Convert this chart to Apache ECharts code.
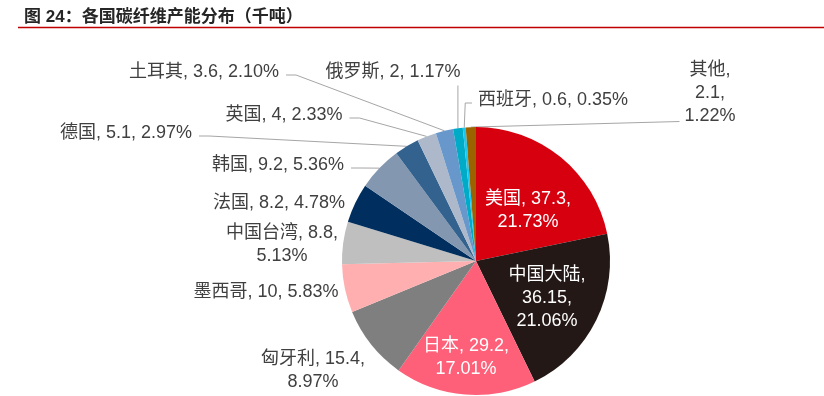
<!DOCTYPE html>
<html><head><meta charset="utf-8">
<script src="https://cdn.jsdelivr.net/npm/echarts@6/dist/echarts.min.js"></script>
<style>html,body{margin:0;padding:0;background:#fff}#c{width:824px;height:396px}</style>
</head><body><div id="c"></div>
<script>
// ---- data ----
const titleText = '图 24：各国碳纤维产能分布（千吨）';
const categories = ['美国','中国大陆','日本','匈牙利','墨西哥','中国台湾','法国','韩国','德国','英国','土耳其','俄罗斯','西班牙','其他'];
const capacity = [37.3, 36.15, 29.2, 15.4, 10, 8.8, 8.2, 9.2, 5.1, 4, 3.6, 2, 0.6, 2.1];

// ---- styles / layout ----
const colors = ['#D7000F','#231815','#FE6079','#7F7F7F','#FFAFAF','#BFBFBF','#002F5F','#8497B0','#33628F','#ADB9CA','#6797CB','#00ABC8','#1CC8F2','#9A6300'];
// label centre positions (px), wrap style, leader attach
const labelCfg = [
  {x:528, y:211, wrap:1, inside:true},
  {x:547, y:298, wrap:2, inside:true},
  {x:466, y:358, wrap:1, inside:true},
  {x:313, y:371, wrap:1},
  {x:266, y:292, wrap:0},
  {x:282, y:245, wrap:1},
  {x:279, y:203, wrap:0},
  {x:278, y:165, wrap:0, line:'right'},
  {x:126, y:133, wrap:0, line:'right'},
  {x:284, y:115, wrap:0, line:'right'},
  {x:204, y:72,  wrap:0, line:'right'},
  {x:393, y:72,  wrap:0, line:'up'},
  {x:553, y:100, wrap:0, line:'left'},
  {x:710, y:93,  wrap:2, line:'leftBottom'}
];
const FONT = "'Liberation Sans', Arial, 'Noto Sans CJK SC', sans-serif";
const total = capacity.reduce((a, b) => a + b, 0);

function fmt(p) {
  const c = labelCfg[p.dataIndex];
  const pct = (p.value / total * 100).toFixed(2) + '%';
  const v = String(p.value);
  if (c.wrap === 0) return p.name + ', ' + v + ', ' + pct;
  if (c.wrap === 1) return p.name + ', ' + v + ',\n' + pct;
  return p.name + ',\n' + v + ',\n' + pct;
}

const chart = echarts.init(document.getElementById('c'), null, {renderer: 'canvas'});
chart.setOption({
  animation: false,
  backgroundColor: '#fff',
  title: {
    text: titleText, left: 19, top: 4,
    textStyle: {fontSize: 17, fontWeight: 'bold', color: '#262626', fontFamily: FONT}
  },
  graphic: [{
    type: 'line', shape: {x1: 18, y1: 27.5, x2: 824, y2: 27.5},
    style: {stroke: '#C00000', lineWidth: 1.5}, silent: true
  }],
  series: [{
    type: 'pie',
    center: [476, 261],
    radius: 134,
    startAngle: 90,
    clockwise: true,
    avoidLabelOverlap: false,
    emphasis: {disabled: true},
    itemStyle: {borderWidth: 0},
    label: {
      show: true, position: 'outside', formatter: fmt,
      fontSize: 18, lineHeight: 23, color: '#404040', fontFamily: FONT
    },
    labelLine: {show: true, length: 10, length2: 10, lineStyle: {color: '#A6A6A6', width: 1}},
    labelLayout: function (p) {
      const c = labelCfg[p.dataIndex];
      const res = {x: c.x, y: c.y, align: 'center', verticalAlign: 'middle'};
      const a = p.labelLinePoints && p.labelLinePoints[0];
      if (c.line && a) {
        const w = p.labelRect.width, h = p.labelRect.height;
        const L = c.x - w / 2, R = c.x + w / 2, B = c.y + h / 2;
        const py = c.y + 3;
        if (c.line === 'right') res.labelLinePoints = [a, [R + 17, py], [R + 7, py]];
        else if (c.line === 'up') res.labelLinePoints = [a, [a[0], B + 2]];
        else if (c.line === 'left') res.labelLinePoints = [a, [a[0] + 1, py], [L - 6, py]];
        else if (c.line === 'leftBottom') res.labelLinePoints = [a, [L - 5, B - 6]];
      }
      return res;
    },
    data: categories.map((n, i) => {
      const c = labelCfg[i];
      const d = {name: n, value: capacity[i], itemStyle: {color: colors[i]}};
      if (c.inside) {
        d.label = {position: 'inside', color: '#FFFFFF'};
        d.labelLine = {show: false};
      } else if (!c.line) {
        d.labelLine = {show: false};
      }
      return d;
    })
  }]
});
</script>
</body></html>
